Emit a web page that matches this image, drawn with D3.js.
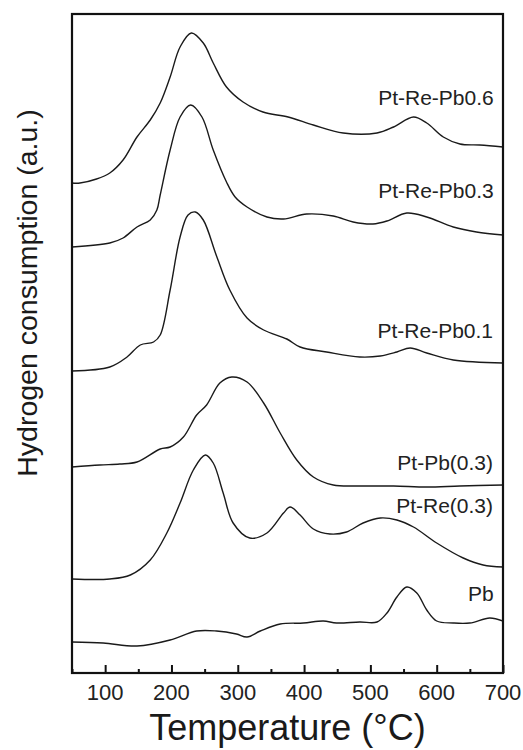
<!DOCTYPE html>
<html><head><meta charset="utf-8">
<script src="https://cdn.jsdelivr.net/npm/d3@7/dist/d3.min.js"></script>
<style>body{margin:0;background:#fff}svg{display:block}</style>
</head><body>
<svg id="chart" width="523" height="750"></svg>
<script>
// ---- data (temperature in °C, hydrogen consumption in a.u., offset stacked) ----
const seriesNames = ["Pt-Re-Pb0.6", "Pt-Re-Pb0.3", "Pt-Re-Pb0.1", "Pt-Pb(0.3)", "Pt-Re(0.3)", "Pb"];

const tPtRePb06 = [50, 62, 87, 107, 127, 148, 168, 183, 198, 213, 230, 248, 263, 283, 308, 338, 376, 414, 459, 510, 535, 565, 585, 610, 635, 665, 700];
const vPtRePb06 = [490, 490, 494, 500, 513, 536, 553, 570, 596, 626, 640, 630, 610, 586, 571, 561, 556, 548, 540, 540, 546, 556, 550, 536, 529, 528, 526];

const tPtRePb03 = [50, 107, 127, 148, 168, 178, 183, 198, 213, 229, 246, 263, 283, 296, 314, 344, 369, 404, 444, 474, 504, 525, 555, 585, 625, 660, 700];
const vPtRePb03 = [426, 430, 435, 446, 453, 463, 478, 523, 556, 568, 556, 523, 491, 476, 466, 456, 454, 459, 457, 451, 449, 452, 460, 456, 446, 441, 438];

const tPtRePb01 = [50, 107, 133, 153, 173, 183, 198, 213, 225, 236, 248, 268, 288, 314, 339, 374, 394, 434, 484, 515, 540, 560, 585, 625, 700];
const vPtRePb01 = [302, 306, 316, 328, 331, 338, 383, 436, 458, 461, 453, 417, 383, 355, 343, 334, 326, 321, 316, 317, 321, 325, 320, 313, 310];

const tPtPb03 = [50, 92, 122, 148, 183, 198, 218, 238, 253, 273, 291, 314, 339, 364, 389, 414, 444, 484, 535, 585, 635, 700];
const vPtPb03 = [206, 208, 209, 211, 224, 226, 236, 258, 268, 290, 296, 291, 270, 240, 213, 196, 188, 187, 187, 186, 187, 188];

const tPtRe03 = [50, 107, 138, 168, 193, 213, 233, 251, 263, 278, 293, 318, 344, 369, 379, 394, 414, 439, 464, 489, 515, 540, 565, 600, 640, 670, 700];
const vPtRe03 = [94, 94, 98, 113, 140, 170, 203, 218, 210, 180, 150, 135, 140, 160, 166, 158, 144, 139, 141, 150, 155, 153, 146, 130, 115, 108, 106];

const tPb = [50, 97, 148, 198, 238, 268, 298, 314, 334, 364, 399, 429, 449, 484, 510, 525, 540, 555, 570, 585, 600, 625, 650, 680, 700];
const vPb = [31, 30, 27, 33, 42, 42, 39, 36, 42, 49, 50, 52, 50, 51, 51, 60, 76, 86, 80, 63, 52, 50, 50, 55, 52];

const xTicksMajor = [100, 200, 300, 400, 500, 600, 700];
const xTicksMinor = [50, 150, 250, 350, 450, 550, 650];

// label anchor (temperature at right edge of label, value at baseline)
const labelT = [686, 686, 685, 685, 685, 686];
const labelV = [568, 475, 335, 203, 160, 72];

const xLabel = "Temperature (°C)";
const yLabel = "Hydrogen consumption (a.u.)";

// ---- drawing ----
const temps = [tPtRePb06, tPtRePb03, tPtRePb01, tPtPb03, tPtRe03, tPb];
const vals = [vPtRePb06, vPtRePb03, vPtRePb01, vPtPb03, vPtRe03, vPb];

const svg = d3.select("#chart");
const m = {left: 72, right: 20, top: 14, bottom: 77};
const W = 523, H = 750;
const x = d3.scaleLinear().domain([50, 700]).range([m.left, W - m.right]);
const y = d3.scaleLinear().domain([0, 659]).range([H - m.bottom, m.top]);
const font = "'Liberation Sans', Arial, Helvetica, sans-serif";

svg.append("rect").attr("width", W).attr("height", H).attr("fill", "#fff");

svg.append("clipPath").attr("id", "clip").append("rect")
  .attr("x", m.left).attr("y", m.top)
  .attr("width", W - m.left - m.right).attr("height", H - m.top - m.bottom);

const line = d3.line()
  .x(d => x(d[0])).y(d => y(d[1]))
  .curve(d3.curveCatmullRom.alpha(0.5));

const g = svg.append("g").attr("clip-path", "url(#clip)");
seriesNames.forEach((name, i) => {
  const pts = temps[i].map((t, j) => [t, vals[i][j]]);
  g.append("path").datum(pts)
    .attr("d", line)
    .attr("fill", "none")
    .attr("stroke", "#1a1a1a")
    .attr("stroke-width", 1.4);
});

// labels
seriesNames.forEach((name, i) => {
  svg.append("text")
    .attr("x", x(labelT[i])).attr("y", y(labelV[i]))
    .attr("text-anchor", "end")
    .attr("font-family", font).attr("font-size", 21)
    .attr("fill", "#222")
    .text(name);
});

// x axis: ticks pointing inward
const xAxisMajor = d3.axisTop(x).tickValues(xTicksMajor).tickSize(8).tickFormat("");
const xAxisMinor = d3.axisTop(x).tickValues(xTicksMinor).tickSize(4).tickFormat("");
const gx = svg.append("g").attr("transform", `translate(0,${H - m.bottom})`);
gx.append("g").call(xAxisMajor);
gx.append("g").call(xAxisMinor);
gx.selectAll("path.domain").remove();
gx.selectAll("line").attr("stroke", "#111").attr("stroke-width", 2);

// tick labels
svg.append("g").selectAll("text").data(xTicksMajor).join("text")
  .attr("x", d => x(d)).attr("y", 700)
  .attr("text-anchor", "middle")
  .attr("font-family", font).attr("font-size", 22)
  .attr("fill", "#222")
  .text(d => d);

// frame
svg.append("rect")
  .attr("x", m.left).attr("y", m.top)
  .attr("width", W - m.left - m.right).attr("height", H - m.top - m.bottom)
  .attr("fill", "none").attr("stroke", "#111").attr("stroke-width", 2.2);

// axis titles
svg.append("text")
  .attr("x", (m.left + W - m.right) / 2).attr("y", 740)
  .attr("text-anchor", "middle")
  .attr("font-family", font).attr("font-size", 36)
  .attr("fill", "#1a1a1a")
  .text(xLabel);

svg.append("text")
  .attr("transform", "translate(37,293) rotate(-90)")
  .attr("text-anchor", "middle")
  .attr("font-family", font).attr("font-size", 28.5)
  .attr("fill", "#1a1a1a")
  .text(yLabel);
</script>
</body></html>
